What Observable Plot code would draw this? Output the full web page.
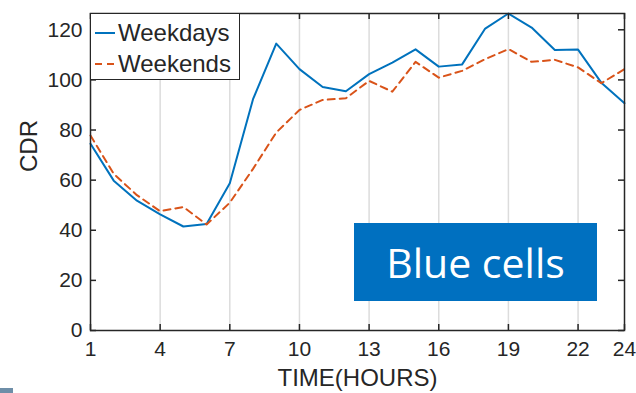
<!DOCTYPE html>
<html>
<head>
<meta charset="utf-8">
<script src="https://cdn.jsdelivr.net/npm/d3@7"></script>
<script src="https://cdn.jsdelivr.net/npm/@observablehq/plot@0.6"></script>
<style>
  html, body { margin: 0; padding: 0; background: #fff; }
  #wrap { position: relative; width: 636px; height: 393px; overflow: hidden; }
  #legend {
    position: absolute; left: 90px; top: 13px; width: 148px; height: 65px;
    border: 1.5px solid #262626; background: #fff; box-sizing: content-box;
    font-family: "Liberation Sans", Arial, sans-serif; font-size: 24px; color: #262626;
  }
  .row { position: absolute; left: 0; height: 30px; display: flex; align-items: center; }
  .row svg { margin-left: 4px; margin-right: 3px; }
  #tag {
    position: absolute; left: 354px; top: 223px; width: 243px; height: 78px;
    background: #0070C0; color: #fff; display: flex; align-items: center; justify-content: center;
    font-family: "Open Sans", sans-serif; font-size: 41px; line-height: 1;
  }
  #corner { position: absolute; left: 0; top: 388px; width: 13px; height: 5px; background: #6e8ea8; }
</style>
</head>
<body>
<div id="wrap"></div>
<script>
// Call detail records per hour of day, averaged over weekdays and weekends
const hours = d3.range(1, 25);
const weekdays = [74.5, 59.8, 51.8, 46.3, 41.5, 42.5, 58.8, 92.3, 114.5, 104.3, 97.2, 95.5,
                  102.3, 106.9, 112.2, 105.3, 106.1, 120.5, 126.5, 120.9, 111.9, 112.1, 98.9, 90.7];
const weekends = [77.8, 62.5, 54.0, 47.6, 49.3, 42.3, 51.0, 64.5, 79.0, 88.0, 92.0, 92.7,
                  99.6, 95.3, 107.2, 100.9, 103.6, 108.3, 112.3, 107.2, 108.0, 105.0, 98.7, 104.3];
const xTicks = [1, 4, 7, 10, 13, 16, 19, 22, 24];
const yTicks = [0, 20, 40, 60, 80, 100, 120];
const seriesNames = ["Weekdays", "Weekends"];
const seriesColors = ["#0072BD", "#D95319"];

const W = 636, H = 393;
const mL = 90, mR = 12, mT = 13, mB = 63;
const innerH = H - mT - mB;
const innerW = W - mL - mR;
const tickLen = 6;
const ink = "#262626";

const chart = Plot.plot({
  width: W, height: H,
  marginLeft: mL, marginRight: mR, marginTop: mT, marginBottom: mB,
  style: { fontFamily: "Liberation Sans, Arial, sans-serif", color: ink, background: "#fff" },
  x: { domain: [1, 24] },
  y: { domain: [0, 126.5] },
  marks: [
    Plot.gridX(xTicks.filter(t => t !== 1 && t !== 24), { stroke: "#dcdcdc", strokeOpacity: 1, strokeWidth: 1.5 }),
    Plot.lineY(weekdays, { x: (d, i) => hours[i], y: d => d, stroke: seriesColors[0], strokeWidth: 2 }),
    Plot.lineY(weekends, { x: (d, i) => hours[i], y: d => d, stroke: seriesColors[1], strokeWidth: 2, strokeDasharray: "7,5" }),
    // inward ticks on all four sides
    Plot.tickX(xTicks, { x: d => d, insetTop: innerH - tickLen, stroke: ink, strokeWidth: 1.5 }),
    Plot.tickX(xTicks, { x: d => d, insetBottom: innerH - tickLen, stroke: ink, strokeWidth: 1.5 }),
    Plot.tickY(yTicks, { y: d => d, insetRight: innerW - tickLen, stroke: ink, strokeWidth: 1.5 }),
    Plot.tickY(yTicks, { y: d => d, insetLeft: innerW - tickLen, stroke: ink, strokeWidth: 1.5 }),
    Plot.frame({ stroke: ink, strokeWidth: 1.5 }),
    Plot.axisX({ ticks: xTicks, tickSize: 0, tickPadding: 11, fontSize: 21, label: null, tickFormat: d => String(d) }),
    Plot.axisY({ ticks: yTicks, tickSize: 0, tickPadding: 8, fontSize: 21, label: null }),
    Plot.text(["TIME(HOURS)"], { frameAnchor: "bottom", dy: 48, fontSize: 24, fill: ink, lineAnchor: "middle" }),
    Plot.text(["CDR"], { frameAnchor: "left", dx: -61, rotate: -90, fontSize: 24, fill: ink, lineAnchor: "middle" })
  ]
});

const wrap = document.getElementById("wrap");
wrap.appendChild(chart);

// legend box
const legend = document.createElement("div");
legend.id = "legend";
seriesNames.forEach((name, i) => {
  const row = document.createElement("div");
  row.className = "row";
  row.style.top = (4 + i * 31) + "px";
  const dash = i === 1 ? ' stroke-dasharray="7,5"' : "";
  row.innerHTML = `<svg width="20" height="4"><line x1="0" y1="2" x2="20" y2="2" stroke="${seriesColors[i]}" stroke-width="2"${dash}/></svg><span>${name}</span>`;
  legend.appendChild(row);
});
wrap.appendChild(legend);

const tag = document.createElement("div");
tag.id = "tag";
tag.textContent = "Blue cells";
wrap.appendChild(tag);

const corner = document.createElement("div");
corner.id = "corner";
wrap.appendChild(corner);
</script>
</body>
</html>
